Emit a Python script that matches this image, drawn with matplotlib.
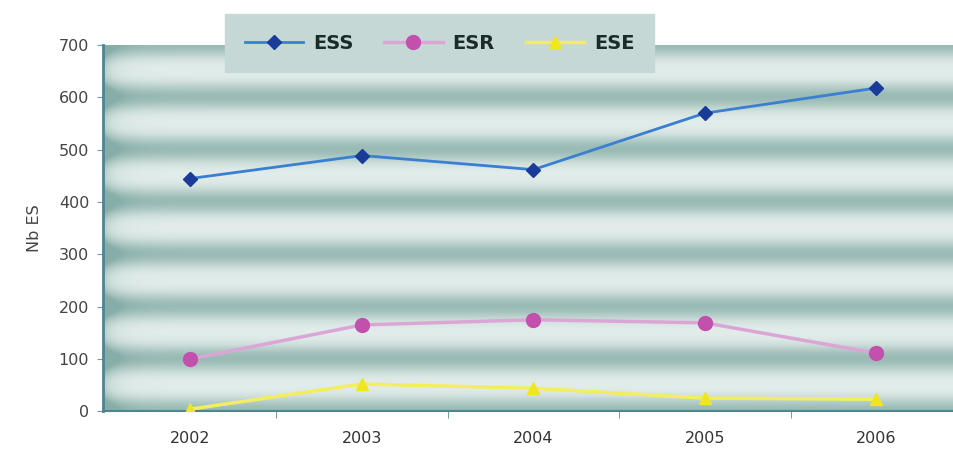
import numpy as np
import matplotlib.pyplot as plt
from matplotlib.colors import LinearSegmentedColormap

years = ['2002', '2003', '2004', '2005', '2006']
ess = [445, 489, 462, 570, 618]
esr = [100, 165, 175, 169, 111]
ese = [4, 52, 44, 25, 23]

fig = plt.figure(figsize=(9.54, 4.61), dpi=100)
ax = fig.add_axes([0.108, 0.108, 0.895, 0.794])

x = np.arange(len(years))
ax.set_xlim(-0.51, 4.47)
ax.set_ylim(0, 700)

# striped teal background, dark bands on each hundred
yy = np.linspace(0, 700, 700)
xx = np.linspace(0, 1, 400)
band = 0.5 + 0.5 * np.cos(2 * np.pi * yy / 100.0)
band = band ** 1.2
edge = np.exp(-xx / 0.015)
shade = np.clip(band[:, None] * 0.75 + edge[None, :] * 0.5 + 0.1, 0, 1)
cmap = LinearSegmentedColormap.from_list('bg', ['#e8f1f0', '#cfdfdc', '#a9c5c0', '#7aa5a0'])
ax.imshow(shade, extent=[-0.51, 4.47, 0, 700], origin='lower', aspect='auto',
          cmap=cmap, vmin=0, vmax=1.1, zorder=0, interpolation='bilinear')

ax.plot(x, ess, color='#3a7fd0', lw=2, marker='D', ms=7, mfc='#1a3b9a', mec='#1a3b9a',
        label='ESS', zorder=3)
ax.plot(x, esr, color='#dba6d6', lw=2.5, marker='o', ms=10, mfc='#c250ad', mec='#c250ad',
        label='ESR', zorder=3)
ax.plot(x, ese, color='#f2ee60', lw=2.5, marker='^', ms=8, mfc='#f0e61c', mec='#f0e61c',
        label='ESE', zorder=3)

ax.set_xticks(x)
ax.set_xticklabels(years)
ax.set_xticks(np.arange(0.5, 4.0, 1.0), minor=True)
ax.tick_params(axis='x', which='major', length=0, pad=14, labelsize=11.5, labelcolor='#333333')
ax.tick_params(axis='x', which='minor', length=5, color='#5e8a9a', direction='out')
ax.set_yticks(np.arange(0, 701, 100))
ax.tick_params(axis='y', length=4, color='#6a9ac0', labelsize=11.5, labelcolor='#444444', pad=6)
ax.set_ylabel('Nb ES', fontsize=11.5, color='#444444', labelpad=12)

for side in ['top', 'right']:
    ax.spines[side].set_visible(False)
ax.spines['left'].set_color('#4e8591')
ax.spines['left'].set_linewidth(2)
ax.spines['bottom'].set_color('#4e8591')
ax.spines['bottom'].set_linewidth(1.5)

leg = fig.legend(loc='upper left', bbox_to_anchor=(0.226, 0.99), ncol=3, frameon=True,
                 fontsize=14, handlelength=3.0, columnspacing=1.6, borderpad=1.0,
                 handletextpad=0.5, fancybox=False)
leg.get_frame().set_facecolor('#c6d8d6')
leg.get_frame().set_edgecolor('#c6d8d6')
leg.get_frame().set_alpha(1)
for t in leg.get_texts():
    t.set_fontweight('bold')
    t.set_color('#1b2a2a')

fig.savefig('out.png', dpi=100)
